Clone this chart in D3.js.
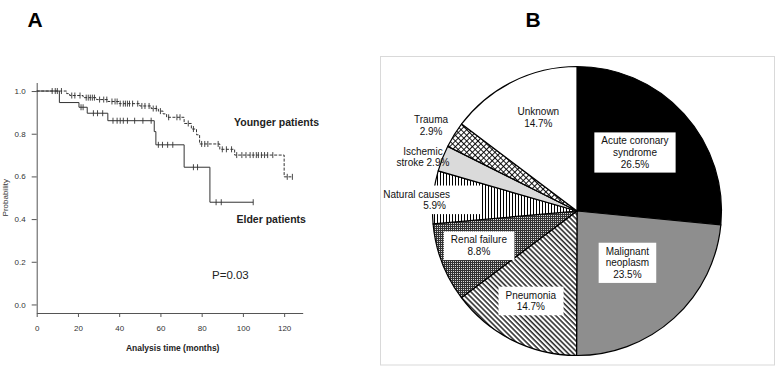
<!DOCTYPE html>
<html>
<head>
<meta charset="utf-8">
<script src="https://cdn.jsdelivr.net/npm/d3@7"></script>
<style>
  body { margin: 0; background: #fff; }
  svg { font-family: "Liberation Sans", Arial, sans-serif; }
</style>
</head>
<body>
<div id="chart"></div>
<script>
// ---- panel A: Kaplan-Meier data (months, survival probability) ----
const elderTimes = [0, 11, 20.5, 24.5, 34.5, 57, 57.8, 71.5, 84];
const elderSurv = [1, 0.946, 0.924, 0.896, 0.861, 0.81, 0.748, 0.643, 0.479];
const elderCensor = [21.5, 22.5, 27.5, 29.5, 32, 37, 39, 40.5, 42, 44, 47.5, 51.5, 55.5,
  59, 61, 63.5, 66, 76, 78, 87, 89.5, 105];
const elderEnd = 105;

const youngTimes = [0, 14.5, 16, 22.5, 29, 34.5, 40, 50, 55.5, 59, 61.3, 63, 71.5, 75, 77.5, 79, 88.8, 96, 120];
const youngSurv = [1, 0.988, 0.979, 0.969, 0.96, 0.951, 0.941, 0.93, 0.918, 0.906, 0.893, 0.877,
  0.848, 0.822, 0.795, 0.752, 0.727, 0.7, 0.598];
const youngCensor = [7.5, 9, 10, 12, 17, 18.5, 21, 24, 25, 26, 27, 28, 30.5, 32.5, 34, 36.5, 38, 39,
  40.5, 42, 43, 44, 45, 46.5, 49, 51, 52.5, 54.5, 56.5, 58, 60, 64, 68, 69.5, 73.5, 76, 80, 81.5,
  83, 88, 90, 92, 94.5, 97, 99.5, 101.5, 103.5, 105, 106.5, 107.5, 109, 110.5, 112, 114.5, 121.5, 124];
const youngEnd = 124;

const xTicks = [0, 20, 40, 60, 80, 100, 120];
const yTicks = [0, 0.2, 0.4, 0.6, 0.8, 1.0];

// ---- panel B: causes of death ----
const causes = ["Acute coronary\nsyndrome", "Malignant\nneoplasm", "Pneumonia", "Renal failure",
  "Natural causes", "Ischemic\nstroke", "Trauma", "Unknown"];
const causePct = [26.5, 23.5, 14.7, 8.8, 5.9, 2.9, 2.9, 14.7];

const svg = d3.select('#chart')
  .append('svg')
  .attr('width', 778)
  .attr('height', 369);

svg.append('text').attr('x', 35).attr('y', 27).attr('text-anchor', 'middle')
  .style('font-size', '21px').style('font-weight', 'bold').text('A');
svg.append('text').attr('x', 533).attr('y', 27).attr('text-anchor', 'middle')
  .style('font-size', '21px').style('font-weight', 'bold').text('B');

// ================= A =================
let x = d3.scaleLinear().domain([0, 129]).range([36.7, 302.7]);
let y = d3.scaleLinear().domain([-0.04, 1.04]).range([313, 82.5]);

let gA = svg.append('g');

let yAxis = gA.append('g')
  .attr('transform', 'translate(' + x.range()[0] + ',0)')
  .call(d3.axisLeft(y).tickValues(yTicks).tickFormat(d3.format('.1f'))
    .tickSize(5).tickSizeOuter(0).tickPadding(6));
let xAxis = gA.append('g')
  .attr('transform', 'translate(0,' + y.range()[0] + ')')
  .call(d3.axisBottom(x).tickValues(xTicks).tickSize(4).tickSizeOuter(0).tickPadding(8));

[yAxis, xAxis].forEach(a => {
  a.select('.domain').attr('stroke', '#555');
  a.selectAll('.tick line').attr('stroke', '#555');
  a.selectAll('.tick text').attr('fill', '#333').style('font-size', '8px')
    .style('font-family', '"Liberation Sans", Arial, sans-serif');
});

gA.append('text')
  .attr('transform', 'translate(8,' + y(0.5) + ') rotate(-90)')
  .attr('text-anchor', 'middle')
  .style('font-size', '8px').attr('fill', '#333')
  .text('Probability');

gA.append('text')
  .attr('x', 172.7).attr('y', 351)
  .attr('text-anchor', 'middle')
  .style('font-size', '8.5px').style('font-weight', 'bold').attr('fill', '#222')
  .text('Analysis  time (months)');

function survAt(times, surv, t) {
  let i = d3.bisectRight(times, t) - 1;
  return surv[Math.max(0, i)];
}

function drawCurve(times, surv, censor, end, dash) {
  let pts = times.map((t, i) => [t, surv[i]]);
  pts.push([end, surv[surv.length - 1]]);
  let line = d3.line()
    .x(d => x(d[0]))
    .y(d => y(d[1]))
    .curve(d3.curveStepAfter);
  gA.append('path')
    .datum(pts)
    .attr('d', line)
    .attr('fill', 'none')
    .attr('stroke', '#333')
    .attr('stroke-width', 1)
    .attr('stroke-dasharray', dash);
  gA.selectAll(null)
    .data(censor)
    .enter()
    .append('line')
    .attr('x1', d => x(d))
    .attr('x2', d => x(d))
    .attr('y1', d => y(survAt(times, surv, d)) - 3)
    .attr('y2', d => y(survAt(times, surv, d)) + 3)
    .attr('stroke', '#333')
    .attr('stroke-width', 0.9);
}

drawCurve(youngTimes, youngSurv, youngCensor, youngEnd, '3,1.5');
drawCurve(elderTimes, elderSurv, elderCensor, elderEnd, null);

gA.append('text').attr('x', 234).attr('y', 126)
  .style('font-size', '10.5px').style('font-weight', 'bold').attr('fill', '#222')
  .text('Younger patients');
gA.append('text').attr('x', 236.5).attr('y', 223)
  .style('font-size', '10.5px').style('font-weight', 'bold').attr('fill', '#222')
  .text('Elder patients');
gA.append('text').attr('x', 212).attr('y', 279)
  .style('font-size', '11.5px').attr('fill', '#222')
  .text('P=0.03');

// ================= B =================
svg.append('rect')
  .attr('x', 380.5).attr('y', 56.5)
  .attr('width', 394).attr('height', 308.5)
  .attr('fill', 'none')
  .attr('stroke', '#d9d9d9');

let defs = svg.append('defs');

// diagonal lines (pneumonia)
let pDiag = defs.append('pattern').attr('id', 'diag')
  .attr('patternUnits', 'userSpaceOnUse').attr('width', 3.6).attr('height', 3.6)
  .attr('patternTransform', 'rotate(-45)');
pDiag.append('rect').attr('width', 3.6).attr('height', 3.6).attr('fill', '#fff');
pDiag.append('line').attr('x1', 1).attr('x2', 1).attr('y1', 0).attr('y2', 3.6)
  .attr('stroke', '#000').attr('stroke-width', 1.3);

// fine checker (renal failure)
let pChk = defs.append('pattern').attr('id', 'checker')
  .attr('patternUnits', 'userSpaceOnUse').attr('width', 2).attr('height', 2);
pChk.append('rect').attr('width', 2).attr('height', 2).attr('fill', '#333');
pChk.append('rect').attr('width', 1).attr('height', 1).attr('fill', '#d8d8d8');

// vertical lines (natural causes)
let pVert = defs.append('pattern').attr('id', 'vert')
  .attr('patternUnits', 'userSpaceOnUse').attr('width', 3).attr('height', 3);
pVert.append('rect').attr('width', 3).attr('height', 3).attr('fill', '#fff');
pVert.append('line').attr('x1', 1.5).attr('x2', 1.5).attr('y1', 0).attr('y2', 3)
  .attr('stroke', '#000').attr('stroke-width', 1);

// lattice (trauma)
let pCross = defs.append('pattern').attr('id', 'cross')
  .attr('patternUnits', 'userSpaceOnUse').attr('width', 4).attr('height', 4)
  .attr('patternTransform', 'rotate(45)');
pCross.append('rect').attr('width', 4).attr('height', 4).attr('fill', '#fff');
pCross.append('line').attr('x1', 0).attr('x2', 4).attr('y1', 0.5).attr('y2', 0.5)
  .attr('stroke', '#000').attr('stroke-width', 0.9);
pCross.append('line').attr('x1', 0.5).attr('x2', 0.5).attr('y1', 0).attr('y2', 4)
  .attr('stroke', '#000').attr('stroke-width', 0.9);

const fills = ['#000', '#8e8e8e', 'url(#diag)', 'url(#checker)', 'url(#vert)', '#dadada', 'url(#cross)', '#fff'];
// label placement: radius factor, angle nudge (deg), white box, anchor, pct on same line
const labelLayout = [
  { r: 0.57, da: -3, box: true },
  { r: 0.5, da: -2, box: true },
  { r: 0.7, da: 0.5, box: true },
  { r: 0.72, da: 1.5, box: true },
  { r: 1.11, da: -1.5, box: false, anchor: 'end', dx: 33, bg: true },
  { r: 1.13, da: -2, box: false, inline: true },
  { r: 1.17, da: -1.5, box: false },
  { r: 0.7, da: 4, box: false }
];

const cx = 577, cy = 211, radius = 144.5;
let gB = svg.append('g').attr('transform', 'translate(' + cx + ',' + cy + ')');

let pie = d3.pie().sort(null).value(d => d);
let arcs = pie(causePct);
let arc = d3.arc().innerRadius(0).outerRadius(radius);

gB.selectAll('path.slice')
  .data(arcs)
  .enter()
  .append('path')
  .attr('class', 'slice')
  .attr('d', arc)
  .attr('fill', (d, i) => fills[i])
  .attr('stroke', '#000')
  .attr('stroke-width', 1.2)
  .attr('stroke-linejoin', 'round');

arcs.forEach((a, i) => {
  let lay = labelLayout[i];
  let mid = (a.startAngle + a.endAngle) / 2 + lay.da * Math.PI / 180;
  let rr = radius * lay.r;
  let lx = Math.sin(mid) * rr;
  let ly = -Math.cos(mid) * rr;
  let pctText = causePct[i].toFixed(1) + '%';
  let lines = causes[i].split('\n');
  if (lay.inline) lines[lines.length - 1] += ' ' + pctText;
  else lines.push(pctText);

  let g = gB.append('g').attr('transform', 'translate(' + lx + ',' + ly + ')');
  let lh = 11.6;
  let t = g.append('text')
    .attr('text-anchor', lay.anchor || 'middle')
    .style('font-size', '10px')
    .attr('fill', '#111');
  lines.forEach((s, k) => {
    t.append('tspan')
      .attr('x', lay.anchor === 'end' ? lay.dx - (k === lines.length - 1 ? 4 : 0) : 0)
      .attr('y', (k - (lines.length - 1) / 2) * lh + 3.5)
      .text(s);
  });
  let bb = t.node().getBBox();
  if (lay.box) {
    g.insert('rect', 'text')
      .attr('x', bb.x - 7).attr('y', bb.y - 3)
      .attr('width', bb.width + 14).attr('height', bb.height + 6)
      .attr('fill', '#fff');
  } else if (lay.bg) {
    g.insert('rect', 'text')
      .attr('x', bb.x - 2).attr('y', bb.y - 3)
      .attr('width', bb.width + 32).attr('height', bb.height + 6)
      .attr('fill', '#fff');
  }
});
</script>
</body>
</html>
